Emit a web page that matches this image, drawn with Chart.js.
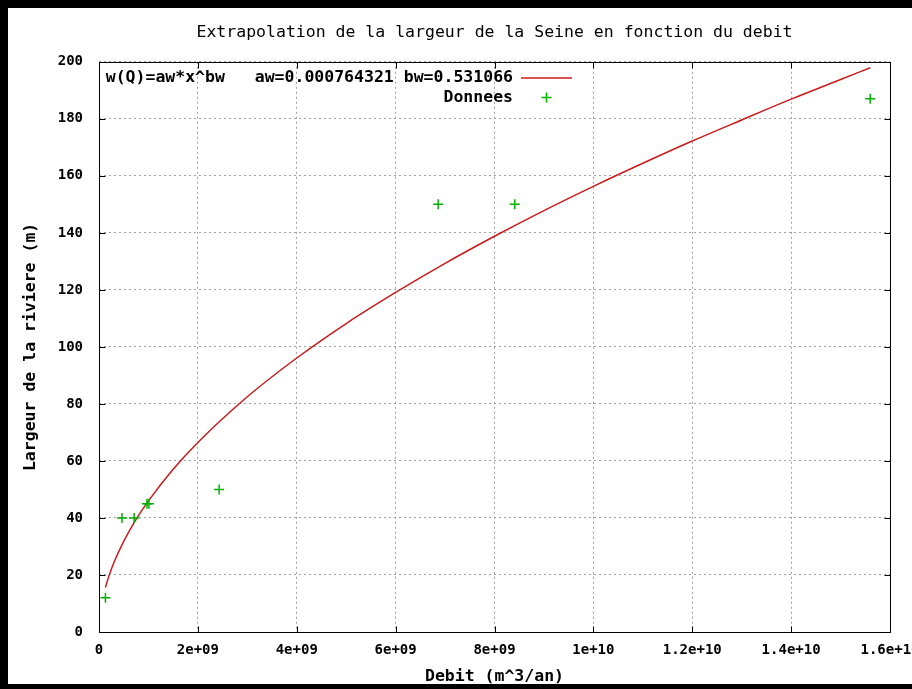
<!DOCTYPE html>
<html>
<head>
<meta charset="utf-8">
<script src="https://cdn.jsdelivr.net/npm/chart.js@4/dist/chart.umd.min.js"></script>
<style>
  html, body { margin: 0; padding: 0; background: #000; }
  #c { display: block; }
</style>
</head>
<body>
<canvas id="c" width="912" height="689"></canvas>
<script>
// ---- data ----
const chartTitle = "Extrapolation de la largeur de la Seine en fonction du debit";
const xAxisTitle = "Debit (m^3/an)";
const yAxisTitle = "Largeur de la riviere (m)";
const fitLabel = "w(Q)=aw*x^bw   aw=0.000764321 bw=0.531066";
const dataLabel = "Donnees";

// fitted curve, values
const curveX = [1.3e8, 1.5e8, 2e8, 3e8, 5e8, 7.5e8, 1e9, 1.5e9, 2e9, 3e9, 4e9, 5e9, 6e9, 7e9, 8e9, 9e9, 1e10, 1.1e10, 1.2e10, 1.3e10, 1.4e10, 1.5e10, 1.56e10];
const curveY = [15.6, 16.8, 19.6, 24.3, 31.8, 39.5, 46.0, 57.1, 66.5, 82.5, 96.1, 108.2, 119.1, 129.3, 138.8, 147.8, 156.3, 164.4, 172.2, 179.6, 186.9, 193.8, 197.9];

// measured points
const dataX = [1.3e8, 4.65e8, 7.1e8, 9.7e8, 1.01e9, 2.43e9, 6.86e9, 8.41e9, 1.56e10];
const dataY = [12, 40, 40, 45, 45, 50, 150, 150, 187];

// tick labels
const xTickValues = [0, 2e9, 4e9, 6e9, 8e9, 1e10, 1.2e10, 1.4e10, 1.6e10];
const xTickLabels = ["0", "2e+09", "4e+09", "6e+09", "8e+09", "1e+10", "1.2e+10", "1.4e+10", "1.6e+10"];
const yTickValues = [0, 20, 40, 60, 80, 100, 120, 140, 160, 180, 200];
const yTickLabels = ["0", "20", "40", "60", "80", "100", "120", "140", "160", "180", "200"];

const MONO = "'DejaVu Sans Mono', 'Liberation Mono', monospace";

const framePlugin = {
  id: 'frame',
  beforeDraw(chart) {
    const ctx = chart.ctx;
    ctx.save();
    ctx.fillStyle = '#000';
    ctx.fillRect(0, 0, chart.width, chart.height);
    ctx.fillStyle = '#fff';
    ctx.fillRect(8, 8, chart.width - 8, 684 - 8);
    ctx.restore();
  },
  afterDatasetsDraw(chart) {
    const ctx = chart.ctx;
    const a = chart.chartArea;
    const xs = chart.scales.x, ys = chart.scales.y;
    const L = Math.round(a.left) + 0.5, R = Math.round(a.right) + 0.5;
    const T = Math.round(a.top) + 0.5, B = Math.round(a.bottom) + 0.5;
    ctx.save();
    ctx.strokeStyle = '#000';
    ctx.lineWidth = 1;
    ctx.setLineDash([]);
    ctx.beginPath();
    ctx.rect(L, T, R - L, B - T);
    // inward ticks, mirrored on all sides
    const tl = 6;
    xs.ticks.forEach(t => {
      const px = Math.round(xs.getPixelForValue(t.value)) + 0.5;
      ctx.moveTo(px, B); ctx.lineTo(px, B - tl);
      ctx.moveTo(px, T); ctx.lineTo(px, T + tl);
    });
    ys.ticks.forEach(t => {
      const py = Math.round(ys.getPixelForValue(t.value)) + 0.5;
      ctx.moveTo(L, py); ctx.lineTo(L + tl, py);
      ctx.moveTo(R, py); ctx.lineTo(R - tl, py);
    });
    ctx.stroke();

    // gnuplot-style key: right-aligned text, sample to the right
    const textRight = 513, sampleL = 521, sampleR = 572, y0 = 78, dy = 19.5;
    ctx.font = "bold 16.5px " + MONO;
    ctx.fillStyle = '#000';
    ctx.textAlign = 'right';
    ctx.textBaseline = 'middle';
    chart.data.datasets.forEach((ds, i) => {
      const y = y0 + i * dy;
      ctx.fillStyle = '#000';
      ctx.fillText(ds.label, textRight, y);
      ctx.strokeStyle = ds.borderColor;
      ctx.lineWidth = ds.borderWidth || 1;
      ctx.beginPath();
      if (ds.showLine) {
        ctx.moveTo(sampleL, y); ctx.lineTo(sampleR, y);
      } else {
        const cx = (sampleL + sampleR) / 2, r = ds.pointRadius;
        ctx.moveTo(cx - r, y); ctx.lineTo(cx + r, y);
        ctx.moveTo(cx, y - r); ctx.lineTo(cx, y + r);
      }
      ctx.stroke();
    });
    ctx.restore();
  }
};

new Chart(document.getElementById('c'), {
  type: 'scatter',
  data: {
    datasets: [
      {
        label: fitLabel,
        data: curveX.map((x, i) => ({ x: x, y: curveY[i] })),
        showLine: true,
        borderColor: '#cc1a1a',
        backgroundColor: '#cc1a1a',
        borderWidth: 1.5,
        pointRadius: 0,
        cubicInterpolationMode: 'monotone',
        order: 2
      },
      {
        label: dataLabel,
        data: dataX.map((x, i) => ({ x: x, y: dataY[i] })),
        showLine: false,
        pointStyle: 'cross',
        pointRadius: 5,
        borderColor: '#00b000',
        backgroundColor: '#00b000',
        borderWidth: 1.5,
        order: 1
      }
    ]
  },
  options: {
    responsive: false,
    animation: false,
    devicePixelRatio: 1,
    layout: { padding: { left: 0, right: 22, top: 0, bottom: 0 } },
    plugins: {
      legend: { display: false },
      tooltip: { enabled: false },
      title: {
        display: true,
        text: chartTitle,
        fullSize: false,
        color: '#000',
        font: { family: MONO, size: 16.5, weight: 'normal', lineHeight: 1.2 },
        padding: { top: 23, bottom: 19 }
      }
    },
    scales: {
      x: {
        type: 'linear',
        min: 0,
        max: 1.6e10,
        afterBuildTicks(scale) {
          scale.ticks = xTickValues.map(v => ({ value: v }));
        },
        afterFit(scale) {
          scale.height = 57;
          scale.paddingLeft = 0;
          scale.paddingRight = 0;
        },
        ticks: {
          color: '#000',
          padding: 10,
          maxRotation: 0,
          autoSkip: false,
          font: { family: MONO, size: 14, weight: 'bold' },
          callback(v, i) { return xTickLabels[xTickValues.indexOf(v)]; }
        },
        grid: { color: '#a0a0a0', lineWidth: 1, drawTicks: false },
        border: { display: false, dash: [2, 3] },
        title: {
          display: true,
          text: xAxisTitle,
          color: '#000',
          font: { family: MONO, size: 16.5, weight: 'bold', lineHeight: 1.2 },
          padding: { top: 0, bottom: 2 }
        }
      },
      y: {
        type: 'linear',
        min: 0,
        max: 200,
        afterBuildTicks(scale) {
          scale.ticks = yTickValues.map(v => ({ value: v }));
        },
        afterFit(scale) {
          scale.width = 99;
        },
        ticks: {
          color: '#000',
          padding: 16,
          autoSkip: false,
          font: { family: MONO, size: 14, weight: 'bold' },
          callback(v) { return yTickLabels[yTickValues.indexOf(v)]; }
        },
        grid: { color: '#a0a0a0', lineWidth: 1, drawTicks: false },
        border: { display: false, dash: [2, 3] },
        title: {
          display: true,
          text: yAxisTitle,
          color: '#000',
          font: { family: MONO, size: 16.5, weight: 'bold', lineHeight: 1.2 },
          padding: { top: 21, bottom: 0 }
        }
      }
    }
  },
  plugins: [framePlugin]
});
</script>
</body>
</html>
